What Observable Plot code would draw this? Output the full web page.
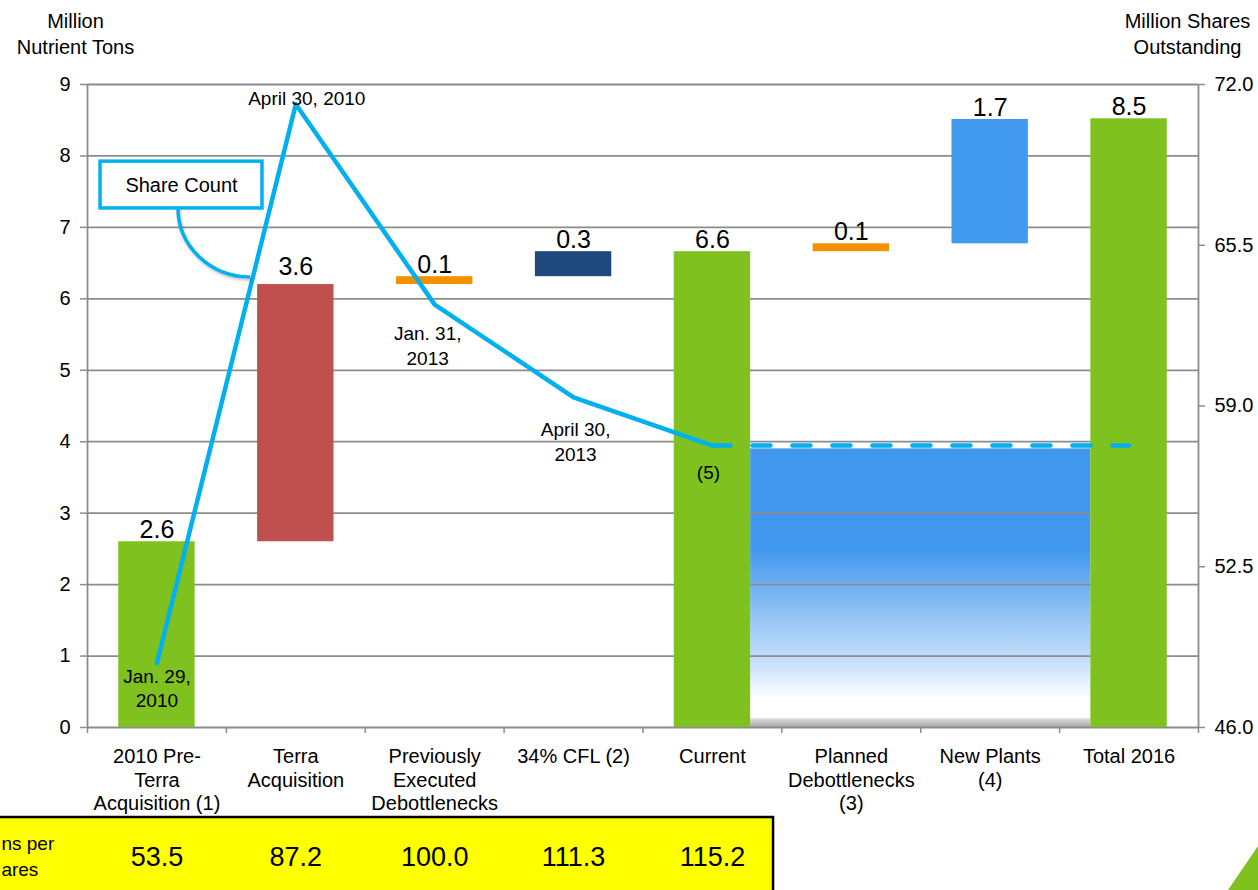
<!DOCTYPE html>
<html>
<head>
<meta charset="utf-8">
<script src="https://cdn.jsdelivr.net/npm/d3@7"></script>
<script src="https://cdn.jsdelivr.net/npm/@observablehq/plot@0.6"></script>
<style>
  html, body { margin: 0; padding: 0; background: #fff; overflow: hidden; }
  #wrap { position: relative; width: 1258px; height: 890px; font-family: "Liberation Sans", Arial, sans-serif; }
  #corner { position: absolute; right: 0; bottom: 0; width: 30px; height: 44px; background: #7FC11E;
            clip-path: polygon(100% 0, 100% 100%, 0 100%); }
</style>
</head>
<body>
<div id="wrap"><div id="corner"></div></div>
<script>
// ---------------- data ----------------
const categories = [
  "2010 Pre-\nTerra\nAcquisition (1)",
  "Terra\nAcquisition",
  "Previously\nExecuted\nDebottlenecks",
  "34% CFL (2)",
  "Current",
  "Planned\nDebottlenecks\n(3)",
  "New Plants\n(4)",
  "Total 2016"
];
const barLow  = [0,   2.6, 6.2,  6.31, 0,    6.66, 6.77, 0];
const barHigh = [2.6, 6.2, 6.31, 6.66, 6.66, 6.77, 8.51, 8.52];
const barLabels = ["2.6", "3.6", "0.1", "0.3", "6.6", "0.1", "1.7", "8.5"];
const barKinds = ["base", "acquisition", "debottleneck", "cfl", "base", "debottleneck", "plants", "base"];

const shareDates  = ["Jan. 29,\n2010", "April 30, 2010", "Jan. 31,\n2013", "April 30,\n2013", "(5)"];
const shareCounts = [48.6, 71.2, 63.1, 59.35, 57.4];   // million shares outstanding
const projectedShares = 57.4;                           // dashed, Current -> Total 2016
const unlockedCapacity = 3.9;                           // shaded block between Current and Total

const leftTicks  = [0, 1, 2, 3, 4, 5, 6, 7, 8, 9];
const rightTicks = [46.0, 52.5, 59.0, 65.5, 72.0];

const tableLabel = ["ns per", "ares"];
const tonsPerShares = [53.5, 87.2, 100.0, 111.3, 115.2];

// ---------------- helpers ----------------
const colors = {
  base: "#7FC11E", acquisition: "#C0504D", debottleneck: "#F39200",
  cfl: "#1F497D", plants: "#4199F0"
};
const cyan = "#00B0F0";
const grid = "#8c8c8c";
const sMin = rightTicks[0], sMax = rightTicks[rightTicks.length - 1];
const yMax = leftTicks[leftTicks.length - 1];
const toLeft = s => (s - sMin) * yMax / (sMax - sMin);
const fromLeft = v => sMin + v * (sMax - sMin) / yMax;
const half = 0.275;                      // half bar width (in category steps)
const idx = categories.map((d, i) => i);
const cx = i => i + 0.5;
const dateNudge = [[0, 24], [11, -7], [-7, 40], [2, 43], [-4, 26]];
const labelNudge = [-4, -10, -4, -4, -4, -4, -4, -4];

// connector arc from the Share Count box to the line
function connector(index, scales) {
  const {x, y} = scales;
  const x0 = x(0.655), y0 = y(7.265), x1 = x(1.174), y1 = y(6.30);
  return d3.create("svg:path")
    .attr("d", `M${x0},${y0}A${x1 - x0},${y1 - y0} 0 0 0 ${x1},${y1}`)
    .attr("fill", "none").attr("stroke", cyan).attr("stroke-width", 3.5)
    .attr("style", "filter: drop-shadow(1px 2px 1.5px rgba(0,0,0,0.25))")
    .node();
}

const svg = Plot.plot({
  width: 1258,
  height: 890,
  marginLeft: 87,
  marginRight: 60,
  marginTop: 84,
  marginBottom: 163,
  style: {fontFamily: "Liberation Sans, Arial, sans-serif", fontSize: "19px", color: "#000", background: "#fff"},
  x: {type: "linear", domain: [0, categories.length]},
  y: {domain: [0, yMax]},
  color: {type: "identity"},
  marks: [
    // shaded block for capacity between Current and Total
    Plot.rectY([unlockedCapacity], {x1: 4 + 0.5 + half, x2: 7 + 0.5 - half, y1: 0, y2: d => d, fill: "url(#unlockGrad)"}),
    Plot.rectY([0.125], {x1: 4 + 0.5 + half, x2: 7 + 0.5 - half, y1: 0, y2: d => d, fill: "url(#greyGrad)"}),
    // gridlines
    Plot.ruleY(leftTicks.filter(d => d > 0), {stroke: grid, strokeWidth: 1.8}),
    // axes
    Plot.ruleY([0], {stroke: grid, strokeWidth: 1.8}),
    Plot.ruleX([0, categories.length], {y1: 0, y2: yMax, stroke: grid, strokeWidth: 1.8}),
    Plot.axisY(leftTicks, {anchor: "left", tickSize: 7, tickPadding: 10, stroke: grid, strokeWidth: 1.5, fill: "#000", fontSize: 20, label: null,
      tickFormat: d => String(d)}),
    Plot.axisY(rightTicks.map(toLeft), {anchor: "right", tickSize: 6, tickPadding: 10, stroke: grid, strokeWidth: 1.5, fill: "#000", fontSize: 20, label: null,
      tickFormat: v => fromLeft(v).toFixed(1)}),
    Plot.axisX(d3.range(0, categories.length + 1), {anchor: "bottom", tickSize: 6, stroke: grid, strokeWidth: 1.5, tickFormat: () => "", label: null}),
    // waterfall bars
    Plot.rectY(idx, {x1: i => cx(i) - half, x2: i => cx(i) + half, y1: i => barLow[i], y2: i => barHigh[i], fill: i => colors[barKinds[i]]}),
    ...idx.map(i => Plot.text([barLabels[i]], {x: cx(i), y: barHigh[i], text: d => d, lineAnchor: "bottom", dy: labelNudge[i], fontSize: 25, fill: "#000"})),
    // category labels
    Plot.text(idx, {x: cx, y: 0, text: i => categories[i], lineAnchor: "top", dy: 19, fontSize: 20, lineHeight: 1.18, fill: "#000"}),
    // share count line
    Plot.line(shareCounts, {x: (d, i) => cx(i), y: d => toLeft(d), stroke: cyan, strokeWidth: 4.5, strokeLinejoin: "round", strokeLinecap: "round"}),
    Plot.line([4, 7], {x: d => cx(d), y: () => toLeft(projectedShares), stroke: cyan, strokeWidth: 4.5, strokeDasharray: "18,22", strokeLinecap: "round"}),
    ...shareDates.map((d, i) => Plot.text([d], {x: cx(i), y: toLeft(shareCounts[i]), text: t => t,
      dx: dateNudge[i][0], dy: dateNudge[i][1], lineAnchor: "middle", fontSize: 19, lineHeight: 1.3, fill: "#000"})),
    // callout
    connector,
    Plot.rect([0], {x1: 0.094, x2: 1.26, y1: 7.265, y2: 7.92, fill: "#fff", stroke: cyan, strokeWidth: 3.5}),
    Plot.text(["Share Count"], {x: 0.677, y: 7.59, text: d => d, fontSize: 20, fill: "#000"}),
    // axis titles
    Plot.text(["Million\nNutrient Tons"], {frameAnchor: "top-left", dx: -12, dy: -52, text: d => d, textAnchor: "middle", lineAnchor: "middle", fontSize: 20, lineHeight: 1.3, fill: "#000"}),
    Plot.text(["Million Shares\nOutstanding"], {frameAnchor: "top-right", dx: -11, dy: -52, text: d => d, textAnchor: "middle", lineAnchor: "middle", fontSize: 20, lineHeight: 1.3, fill: "#000"}),
    // yellow table
    Plot.rect([0], {x1: -1, x2: 4.94, y1: -1.26, y2: -2.8, fill: "#FFFF00", stroke: "#000", strokeWidth: 2.5}),
    Plot.text(tonsPerShares, {x: (d, i) => cx(i), y: -1.82, text: d => d.toFixed(1), fontSize: 27, fill: "#000"}),
    Plot.text(tableLabel, {x: -0.62, y: (d, i) => [-1.624, -2.0][i], text: d => d, textAnchor: "start", fontSize: 19, fill: "#000"})
  ]
});

const defs = d3.select(svg).insert("defs", ":first-child");
const g = defs.append("linearGradient").attr("id", "unlockGrad").attr("x1", 0).attr("y1", 0).attr("x2", 0).attr("y2", 1);
[["0%", "#4197EE"], ["36%", "#4197EE"], ["60%", "#93C4F6"], ["79%", "#CFE4FB"], ["90%", "#FFFFFF"], ["100%", "#FFFFFF"]]
  .forEach(([o, c]) => g.append("stop").attr("offset", o).attr("stop-color", c));
const gg = defs.append("linearGradient").attr("id", "greyGrad").attr("x1", 0).attr("y1", 0).attr("x2", 0).attr("y2", 1);
[["0%", "#e0e0e0"], ["100%", "#a8a8a8"]].forEach(([o, c]) => gg.append("stop").attr("offset", o).attr("stop-color", c));

document.getElementById("wrap").prepend(svg);
</script>
</body>
</html>
